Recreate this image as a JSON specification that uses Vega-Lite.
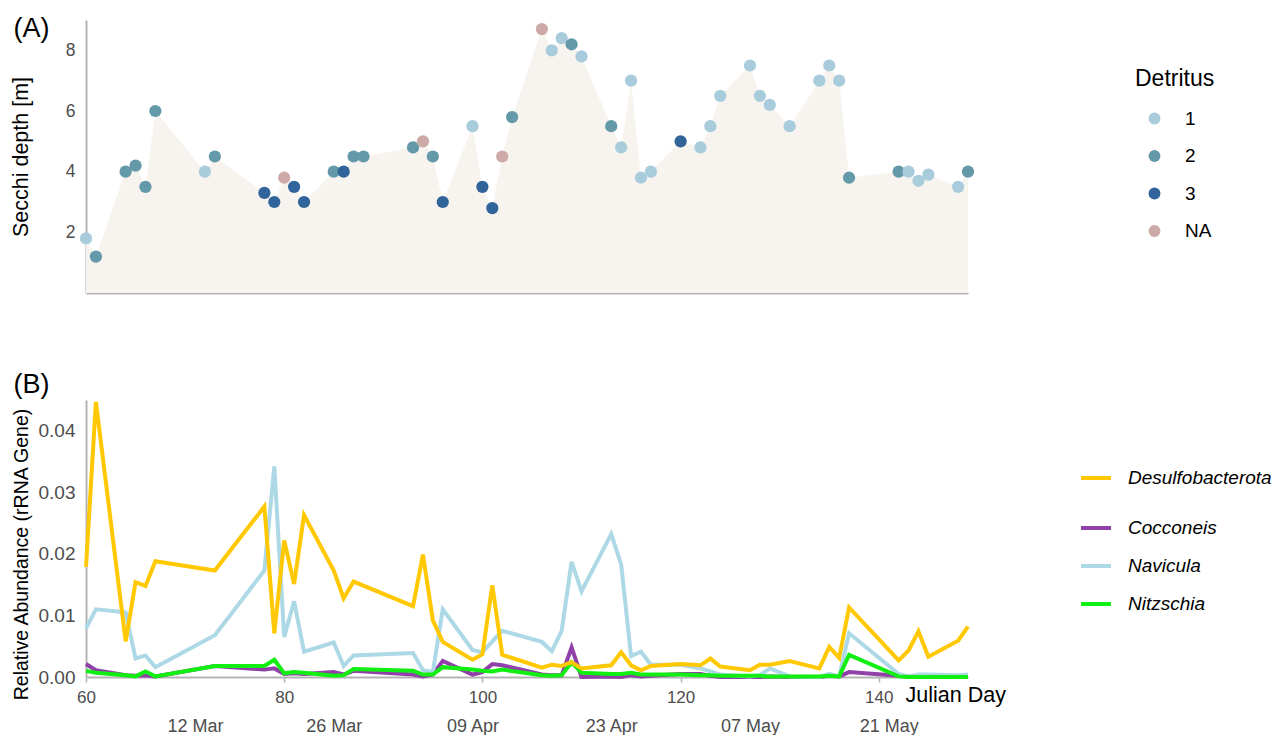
{
  "$schema": "https://vega.github.io/schema/vega-lite/v6.json",
  "padding": {"left": 9, "top": 14, "right": 0, "bottom": 0},
  "config": {
    "font": "Liberation Sans",
    "view": {"stroke": null},
    "axis": {"domainColor": "#B3B3B3", "domainWidth": 2, "tickColor": "#B3B3B3", "tickWidth": 1.5, "grid": false, "labelColor": "#4D4D4D", "labelFontSize": 17, "labelFlush": false, "titleColor": "#000000", "titleFontSize": 20, "titleFontWeight": "normal"},
    "legend": {"labelFontSize": 19, "labelColor": "#000000", "titleFontSize": 23, "titleFontWeight": "normal", "titleColor": "#000000", "padding": 0},
    "mark": {"invalid": "filter"}
  },
  "spacing": 77,
  "resolve": {"scale": {"color": "independent", "stroke": "independent"}, "legend": {"color": "independent", "stroke": "independent"}},
  "vconcat": [
    {
      "width": 882,
      "height": 273,
      "data": {"values": [
        {"day": 60, "secchi": 1.8, "detritus": "1"},
        {"day": 61, "secchi": 1.2, "detritus": "2"},
        {"day": 64, "secchi": 4.0, "detritus": "2"},
        {"day": 65, "secchi": 4.2, "detritus": "2"},
        {"day": 66, "secchi": 3.5, "detritus": "2"},
        {"day": 67, "secchi": 6.0, "detritus": "2"},
        {"day": 72, "secchi": 4.0, "detritus": "1"},
        {"day": 73, "secchi": 4.5, "detritus": "2"},
        {"day": 78, "secchi": 3.3, "detritus": "3"},
        {"day": 79, "secchi": 3.0, "detritus": "3"},
        {"day": 80, "secchi": 3.8, "detritus": "NA"},
        {"day": 81, "secchi": 3.5, "detritus": "3"},
        {"day": 82, "secchi": 3.0, "detritus": "3"},
        {"day": 85, "secchi": 4.0, "detritus": "2"},
        {"day": 86, "secchi": 4.0, "detritus": "3"},
        {"day": 87, "secchi": 4.5, "detritus": "2"},
        {"day": 88, "secchi": 4.5, "detritus": "2"},
        {"day": 93, "secchi": 4.8, "detritus": "2"},
        {"day": 94, "secchi": 5.0, "detritus": "NA"},
        {"day": 95, "secchi": 4.5, "detritus": "2"},
        {"day": 96, "secchi": 3.0, "detritus": "3"},
        {"day": 99, "secchi": 5.5, "detritus": "1"},
        {"day": 100, "secchi": 3.5, "detritus": "3"},
        {"day": 101, "secchi": 2.8, "detritus": "3"},
        {"day": 102, "secchi": 4.5, "detritus": "NA"},
        {"day": 103, "secchi": 5.8, "detritus": "2"},
        {"day": 106, "secchi": 8.7, "detritus": "NA"},
        {"day": 107, "secchi": 8.0, "detritus": "1"},
        {"day": 108, "secchi": 8.4, "detritus": "1"},
        {"day": 109, "secchi": 8.2, "detritus": "2"},
        {"day": 110, "secchi": 7.8, "detritus": "1"},
        {"day": 113, "secchi": 5.5, "detritus": "2"},
        {"day": 114, "secchi": 4.8, "detritus": "1"},
        {"day": 115, "secchi": 7.0, "detritus": "1"},
        {"day": 116, "secchi": 3.8, "detritus": "1"},
        {"day": 117, "secchi": 4.0, "detritus": "1"},
        {"day": 120, "secchi": 5.0, "detritus": "3"},
        {"day": 122, "secchi": 4.8, "detritus": "1"},
        {"day": 123, "secchi": 5.5, "detritus": "1"},
        {"day": 124, "secchi": 6.5, "detritus": "1"},
        {"day": 127, "secchi": 7.5, "detritus": "1"},
        {"day": 128, "secchi": 6.5, "detritus": "1"},
        {"day": 129, "secchi": 6.2, "detritus": "1"},
        {"day": 131, "secchi": 5.5, "detritus": "1"},
        {"day": 134, "secchi": 7.0, "detritus": "1"},
        {"day": 135, "secchi": 7.5, "detritus": "1"},
        {"day": 136, "secchi": 7.0, "detritus": "1"},
        {"day": 137, "secchi": 3.8, "detritus": "2"},
        {"day": 142, "secchi": 4.0, "detritus": "2"},
        {"day": 143, "secchi": 4.0, "detritus": "1"},
        {"day": 144, "secchi": 3.7, "detritus": "1"},
        {"day": 145, "secchi": 3.9, "detritus": "1"},
        {"day": 148, "secchi": 3.5, "detritus": "1"},
        {"day": 149, "secchi": 4.0, "detritus": "2"}
      ]},
      "layer": [
        {
          "mark": {"type": "area", "color": "#F7F3EE"},
          "encoding": {
            "x": {"field": "day", "type": "quantitative", "scale": {"domain": [60, 149], "nice": false, "zero": false}, "axis": {"orient": "bottom", "labels": false, "ticks": false, "title": null}},
            "y": {"field": "secchi", "type": "quantitative", "scale": {"domain": [0, 9], "nice": false}, "axis": {"values": [2, 4, 6, 8], "ticks": false, "labelPadding": 11, "labelFontSize": 17.5, "title": "Secchi depth [m]", "titleFontSize": 21.5, "titleX": -65, "titleBaseline": "middle"}}
          }
        },
        {
          "mark": {"type": "point", "filled": true, "size": 150, "opacity": 1},
          "encoding": {
            "x": {"field": "day", "type": "quantitative", "axis": {"orient": "top", "domain": false, "ticks": false, "labels": false, "title": "(A)", "titleX": -73, "titleY": 16.5, "titleAlign": "left", "titleAnchor": "start", "titleBaseline": "alphabetic", "titleFontSize": 27, "titleAngle": 0}},
            "y": {"field": "secchi", "type": "quantitative"},
            "color": {
              "field": "detritus", "type": "nominal",
              "scale": {"domain": ["1", "2", "3", "NA"], "range": ["#A9CCDD", "#6399A8", "#30649A", "#CDA9A8"]},
              "legend": {"orient": "none", "legendX": 1049, "legendY": 48, "title": "Detritus", "symbolType": "circle", "symbolSize": 140, "symbolOffset": 10, "labelOffset": 21, "titlePadding": 18, "rowPadding": 17.5}
            }
          }
        }
      ],
      "resolve": {"axis": {"x": "independent"}}
    },
    {
      "width": 882,
      "height": 277,
      "data": {"values": [
        {"day": 60, "Desulfobacterota": 0.0179, "Cocconeis": 0.0021, "Navicula": 0.0079, "Nitzschia": 0.0010},
        {"day": 61, "Desulfobacterota": 0.0447, "Cocconeis": 0.0011, "Navicula": 0.0110, "Nitzschia": 0.0007},
        {"day": 64, "Desulfobacterota": 0.0058, "Cocconeis": 0.0003, "Navicula": 0.0105, "Nitzschia": 0.0003},
        {"day": 65, "Desulfobacterota": 0.0154, "Cocconeis": 0.0002, "Navicula": 0.0030, "Nitzschia": 0.0001},
        {"day": 66, "Desulfobacterota": 0.0148, "Cocconeis": 0.0003, "Navicula": 0.0035, "Nitzschia": 0.0009},
        {"day": 67, "Desulfobacterota": 0.0188, "Cocconeis": 0.0001, "Navicula": 0.0016, "Nitzschia": 0.0001},
        {"day": 73, "Desulfobacterota": 0.0173, "Cocconeis": 0.0018, "Navicula": 0.0068, "Nitzschia": 0.0018},
        {"day": 78, "Desulfobacterota": 0.0277, "Cocconeis": 0.0012, "Navicula": 0.0173, "Nitzschia": 0.0018},
        {"day": 79, "Desulfobacterota": 0.0071, "Cocconeis": 0.0014, "Navicula": 0.0342, "Nitzschia": 0.0028},
        {"day": 80, "Desulfobacterota": 0.0222, "Cocconeis": 0.0005, "Navicula": 0.0065, "Nitzschia": 0.0006},
        {"day": 81, "Desulfobacterota": 0.0151, "Cocconeis": 0.0006, "Navicula": 0.0123, "Nitzschia": 0.0008},
        {"day": 82, "Desulfobacterota": 0.0263, "Cocconeis": 0.0005, "Navicula": 0.0041, "Nitzschia": 0.0007},
        {"day": 85, "Desulfobacterota": 0.0173, "Cocconeis": 0.0008, "Navicula": 0.0056, "Nitzschia": 0.0002},
        {"day": 86, "Desulfobacterota": 0.0128, "Cocconeis": 0.0004, "Navicula": 0.0018, "Nitzschia": 0.0003},
        {"day": 87, "Desulfobacterota": 0.0155, "Cocconeis": 0.0010, "Navicula": 0.0035, "Nitzschia": 0.0013},
        {"day": 93, "Desulfobacterota": 0.0115, "Cocconeis": 0.0004, "Navicula": 0.0039, "Nitzschia": 0.0010},
        {"day": 94, "Desulfobacterota": 0.0199, "Cocconeis": 0.0001, "Navicula": 0.0011, "Nitzschia": 0.0004},
        {"day": 95, "Desulfobacterota": 0.0092, "Cocconeis": 0.0004, "Navicula": 0.0008, "Nitzschia": 0.0004},
        {"day": 96, "Desulfobacterota": 0.0057, "Cocconeis": 0.0026, "Navicula": 0.0110, "Nitzschia": 0.0016},
        {"day": 99, "Desulfobacterota": 0.0028, "Cocconeis": 0.0004, "Navicula": 0.0044, "Nitzschia": 0.0012},
        {"day": 100, "Desulfobacterota": 0.0037, "Cocconeis": 0.0008, "Navicula": 0.0040, "Nitzschia": 0.0010},
        {"day": 101, "Desulfobacterota": 0.0149, "Cocconeis": 0.0021, "Navicula": 0.0058, "Nitzschia": 0.0009},
        {"day": 102, "Desulfobacterota": 0.0036, "Cocconeis": 0.0019, "Navicula": 0.0075, "Nitzschia": 0.0012},
        {"day": 106, "Desulfobacterota": 0.0015, "Cocconeis": 0.0004, "Navicula": 0.0057, "Nitzschia": 0.0003},
        {"day": 107, "Desulfobacterota": 0.0020, "Cocconeis": 0.0003, "Navicula": 0.0042, "Nitzschia": 0.0002},
        {"day": 108, "Desulfobacterota": 0.0018, "Cocconeis": 0.0003, "Navicula": 0.0075, "Nitzschia": 0.0003},
        {"day": 109, "Desulfobacterota": 0.0024, "Cocconeis": 0.0048, "Navicula": 0.0187, "Nitzschia": 0.0024},
        {"day": 110, "Desulfobacterota": 0.0014, "Cocconeis": 0.0000, "Navicula": 0.0139, "Nitzschia": 0.0007},
        {"day": 113, "Desulfobacterota": 0.0019, "Cocconeis": 0.0001, "Navicula": 0.0232, "Nitzschia": 0.0005},
        {"day": 114, "Desulfobacterota": 0.0040, "Cocconeis": 0.0000, "Navicula": 0.0183, "Nitzschia": 0.0005},
        {"day": 115, "Desulfobacterota": 0.0019, "Cocconeis": 0.0003, "Navicula": 0.0034, "Nitzschia": 0.0007},
        {"day": 116, "Desulfobacterota": 0.0011, "Cocconeis": 0.0001, "Navicula": 0.0041, "Nitzschia": 0.0004},
        {"day": 117, "Desulfobacterota": 0.0018, "Cocconeis": 0.0002, "Navicula": 0.0020, "Nitzschia": 0.0004},
        {"day": 120, "Desulfobacterota": 0.0021, "Cocconeis": 0.0005, "Navicula": 0.0020, "Nitzschia": 0.0004},
        {"day": 122, "Desulfobacterota": 0.0019, "Cocconeis": 0.0005, "Navicula": 0.0014, "Nitzschia": 0.0003},
        {"day": 123, "Desulfobacterota": 0.0030, "Cocconeis": 0.0002, "Navicula": 0.0009, "Nitzschia": 0.0003},
        {"day": 124, "Desulfobacterota": 0.0017, "Cocconeis": 0.0000, "Navicula": 0.0004, "Nitzschia": 0.0002},
        {"day": 127, "Desulfobacterota": 0.0011, "Cocconeis": 0.0000, "Navicula": 0.0001, "Nitzschia": 0.0002},
        {"day": 128, "Desulfobacterota": 0.0020, "Cocconeis": 0.0000, "Navicula": 0.0003, "Nitzschia": 0.0002},
        {"day": 129, "Desulfobacterota": 0.0020, "Cocconeis": 0.0001, "Navicula": 0.0014, "Nitzschia": 0.0001},
        {"day": 131, "Desulfobacterota": 0.0026, "Cocconeis": 0.0000, "Navicula": 0.0001, "Nitzschia": 0.0001},
        {"day": 134, "Desulfobacterota": 0.0014, "Cocconeis": 0.0000, "Navicula": 0.0000, "Nitzschia": 0.0001},
        {"day": 135, "Desulfobacterota": 0.0049, "Cocconeis": 0.0002, "Navicula": 0.0005, "Nitzschia": 0.0002},
        {"day": 136, "Desulfobacterota": 0.0031, "Cocconeis": 0.0001, "Navicula": 0.0001, "Nitzschia": 0.0001},
        {"day": 137, "Desulfobacterota": 0.0113, "Cocconeis": 0.0008, "Navicula": 0.0071, "Nitzschia": 0.0036},
        {"day": 142, "Desulfobacterota": 0.0027, "Cocconeis": 0.0002, "Navicula": 0.0005, "Nitzschia": 0.0001},
        {"day": 143, "Desulfobacterota": 0.0043, "Cocconeis": 0.0001, "Navicula": 0.0001, "Nitzschia": 0.0000},
        {"day": 144, "Desulfobacterota": 0.0074, "Cocconeis": 0.0000, "Navicula": 0.0004, "Nitzschia": 0.0000},
        {"day": 145, "Desulfobacterota": 0.0033, "Cocconeis": 0.0000, "Navicula": 0.0004, "Nitzschia": 0.0000},
        {"day": 148, "Desulfobacterota": 0.0059, "Cocconeis": 0.0000, "Navicula": 0.0003, "Nitzschia": 0.0000},
        {"day": 149, "Desulfobacterota": 0.0082, "Cocconeis": 0.0000, "Navicula": 0.0004, "Nitzschia": 0.0000}
      ]},
      "transform": [{"fold": ["Desulfobacterota", "Cocconeis", "Navicula", "Nitzschia"], "as": ["taxon", "value"]}],
      "layer": [
        {
          "transform": [{"filter": "datum.taxon === 'Cocconeis'"}],
          "mark": {"type": "line", "strokeWidth": 4},
          "encoding": {
            "x": {"field": "day", "type": "quantitative", "scale": {"domain": [60, 149], "nice": false, "zero": false}, "axis": {"orient": "bottom", "values": [71, 85, 99, 113, 127, 141], "labelExpr": "timeFormat(datetime(2021, 0, datum.value), '%d %b')", "domain": false, "ticks": false, "labelPadding": 40, "labelFontSize": 18, "title": null}},
            "y": {"field": "value", "type": "quantitative", "scale": {"domain": [0, 0.045], "nice": false}, "axis": {"values": [0, 0.01, 0.02, 0.03, 0.04], "format": ".2f", "ticks": false, "labelPadding": 11, "labelFontSize": 19, "title": "Relative Abundance (rRNA Gene)", "titleFontSize": 19.5, "titleX": -65, "titleY": 154, "titleBaseline": "middle"}},
            "color": {
              "field": "taxon", "type": "nominal",
              "scale": {"domain": ["Cocconeis", "Navicula", "Nitzschia"], "range": ["#9040A8", "#ADD8E6", "#11EE11"]},
              "legend": {"orient": "none", "legendX": 993, "legendY": 111, "title": null, "symbolType": "stroke", "symbolSize": 900, "symbolStrokeWidth": 4, "rowPadding": 11, "labelOffset": 15, "labelFontStyle": "italic"}
            }
          }
        },
        {
          "transform": [{"filter": "datum.taxon === 'Navicula'"}],
          "mark": {"type": "line", "strokeWidth": 4},
          "encoding": {
            "x": {"field": "day", "type": "quantitative", "axis": {"orient": "top", "domain": false, "ticks": false, "labels": false, "title": "(B)", "titleX": -73, "titleY": -8, "titleAlign": "left", "titleAnchor": "start", "titleBaseline": "alphabetic", "titleFontSize": 27, "titleAngle": 0}},
            "y": {"field": "value", "type": "quantitative"},
            "color": {"field": "taxon", "type": "nominal"}
          }
        },
        {
          "transform": [{"filter": "datum.taxon === 'Nitzschia'"}],
          "mark": {"type": "line", "strokeWidth": 4},
          "encoding": {
            "x": {"field": "day", "type": "quantitative", "axis": null},
            "y": {"field": "value", "type": "quantitative"},
            "color": {"field": "taxon", "type": "nominal"}
          }
        },
        {
          "transform": [{"filter": "datum.taxon === 'Desulfobacterota'"}],
          "mark": {"type": "line", "strokeWidth": 4},
          "encoding": {
            "x": {"field": "day", "type": "quantitative", "axis": {"orient": "bottom", "values": [60, 80, 100, 120, 140], "tickSize": 5, "labelPadding": 7, "title": "Julian Day", "titleFontSize": 21.5, "titleX": 819, "titleY": 18, "titleAlign": "left", "titleBaseline": "middle"}},
            "y": {"field": "value", "type": "quantitative"},
            "stroke": {
              "field": "taxon", "type": "nominal",
              "scale": {"domain": ["Desulfobacterota"], "range": ["#FFC800"]},
              "legend": {"orient": "none", "legendX": 993, "legendY": 61, "title": null, "symbolType": "stroke", "symbolSize": 900, "symbolStrokeWidth": 4, "labelOffset": 15, "labelFontStyle": "italic"}
            }
          }
        }
      ],
      "resolve": {"axis": {"x": "independent"}}
    }
  ]
}
